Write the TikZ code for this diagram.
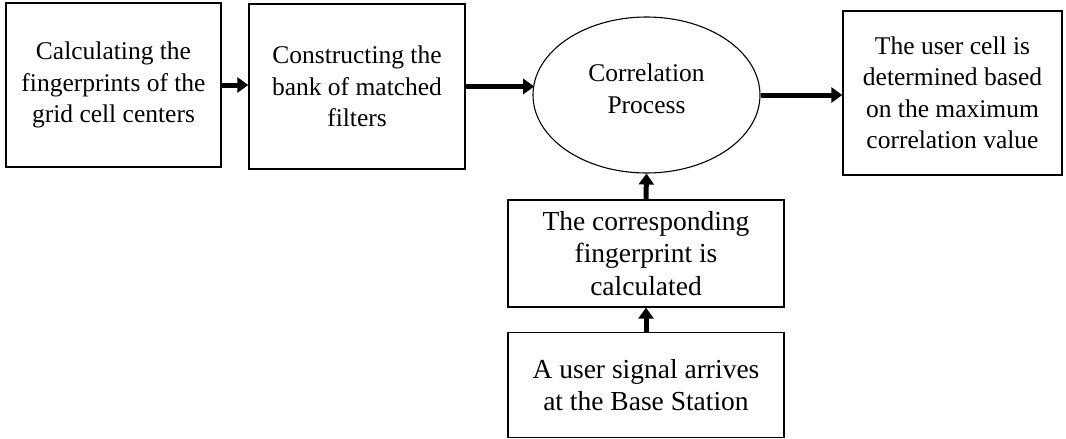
\documentclass[tikz,border=0pt]{standalone}
\usepackage{fontspec}
\setmainfont{Liberation Serif}
\usetikzlibrary{arrows.meta,shapes.geometric}
\tikzset{
  box/.style={draw, line width=1.3pt, rectangle, align=center, inner sep=0pt,
    font=\fontsize{25.5}{31.5}\selectfont},
  bigbox/.style={box, font=\fontsize{27.5}{32.5}\selectfont},
  ell/.style={draw, line width=1.1pt, ellipse, inner sep=0pt},
  txt/.style={align=center, inner sep=0pt, font=\fontsize{25.5}{31.5}\selectfont},
  arr/.style={line width=5pt, -{Triangle[length=11pt,width=15pt]}},
}
\begin{document}
\begin{tikzpicture}[x=1pt,y=-1pt]
\useasboundingbox (0,0) rectangle (1066,439);
\node[box, minimum width=215pt, minimum height=164pt] (b1) at (113.5,85)
  {Calculating the\\fingerprints of the\\grid cell centers};
\node[box, minimum width=216pt, minimum height=165pt] (b2) at (357,86.5)
  {Constructing the\\bank of matched\\filters};
\node[ell, minimum width=227pt, minimum height=156pt] (e) at (646.5,95) {};
\node[txt] (et) at (646.5,89) {Correlation\\Process};
\node[box, minimum width=219pt, minimum height=164pt] (b4) at (952.5,93)
  {The user cell is\\determined based\\on the maximum\\correlation value};
\node[bigbox, minimum width=276pt, minimum height=107pt] (b3) at (646,253.5)
  {The corresponding\\fingerprint is\\calculated};
\node[bigbox, minimum width=276pt, minimum height=105pt] (b5) at (646,385)
  {A user signal arrives\\at the Base Station};
\draw[arr] (b1.east) -- (b2.west |- b1.east);
\draw[arr] (b2.east) -- (b2.east -| e.173);
\draw[arr] (e.east) -- (b4.west |- e.east);
\draw[arr] (b3.north) -- (e.south);
\draw[arr] (b5.north) -- (b3.south);
\end{tikzpicture}
\end{document}
